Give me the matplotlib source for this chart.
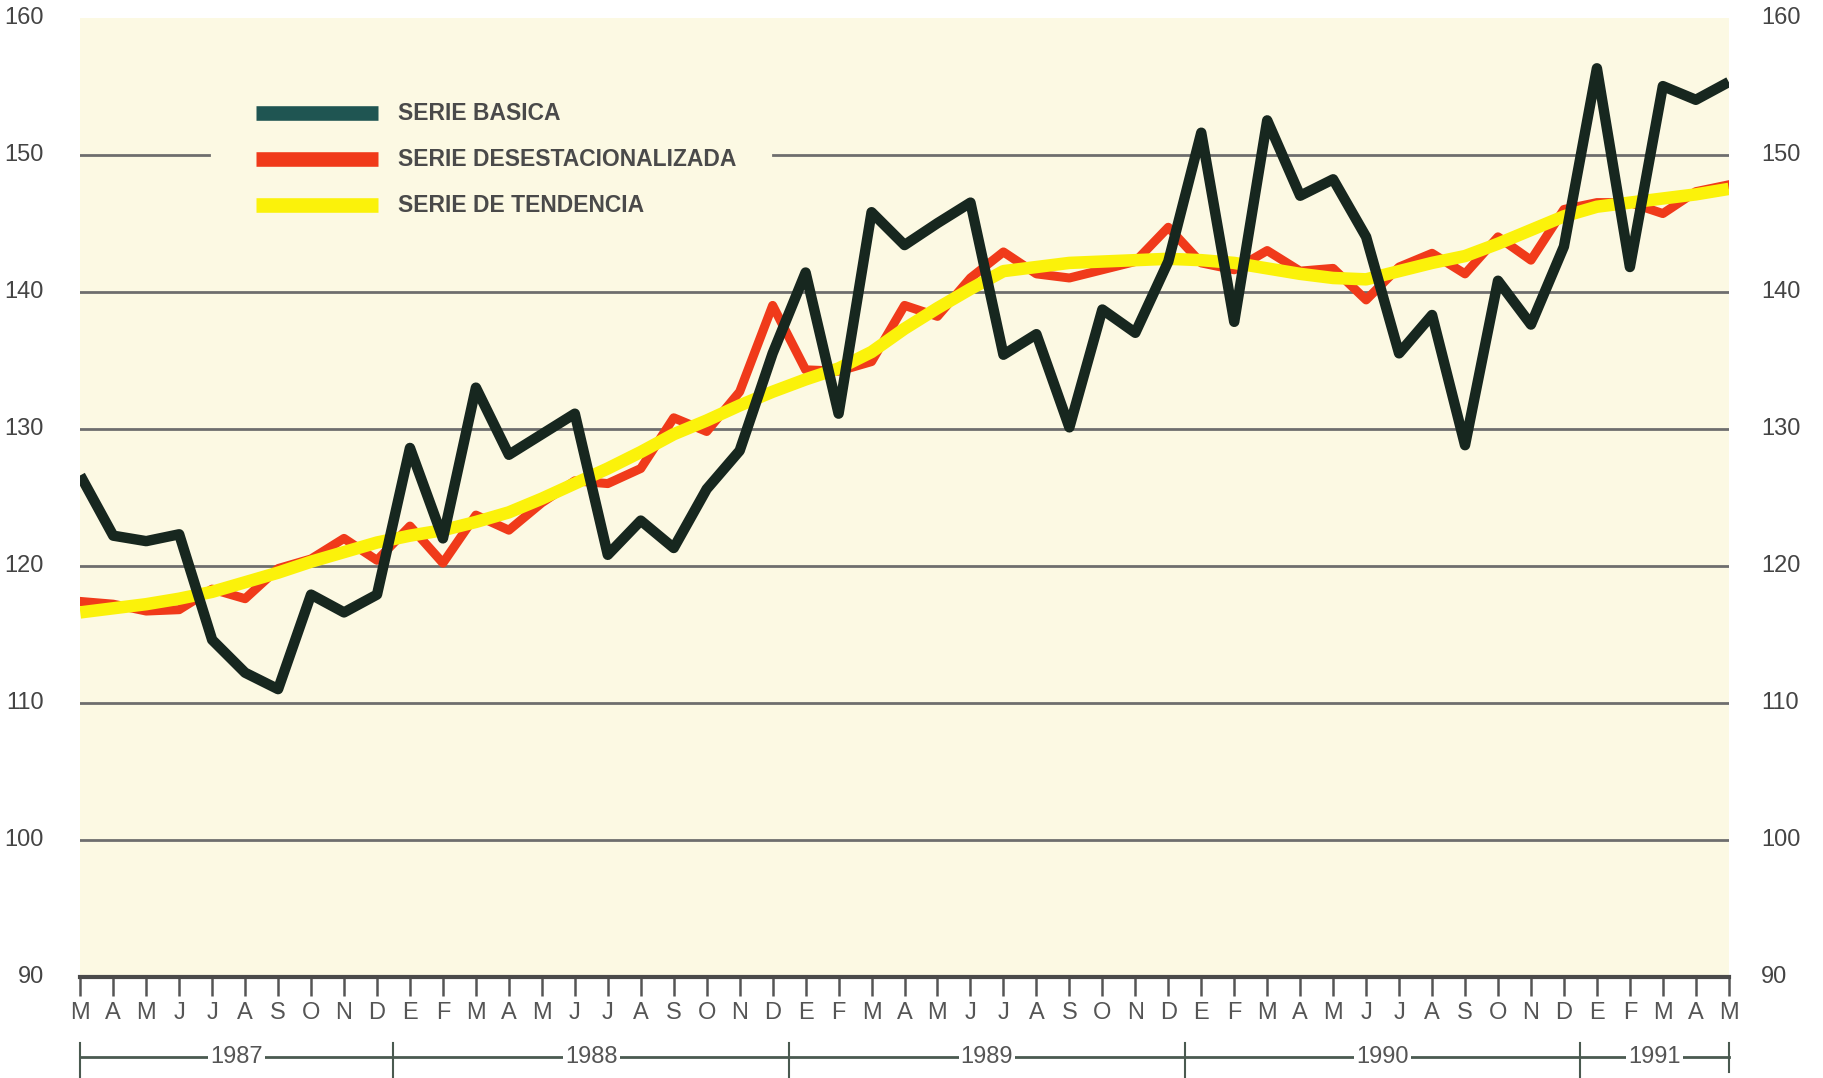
import numpy as np
import matplotlib
matplotlib.use('Agg')
import matplotlib.pyplot as plt
import matplotlib.transforms as mtransforms

meses = ['M', 'A', 'M', 'J', 'J', 'A', 'S', 'O', 'N', 'D',
         'E', 'F', 'M', 'A', 'M', 'J', 'J', 'A', 'S', 'O', 'N', 'D',
         'E', 'F', 'M', 'A', 'M', 'J', 'J', 'A', 'S', 'O', 'N', 'D',
         'E', 'F', 'M', 'A', 'M', 'J', 'J', 'A', 'S', 'O', 'N', 'D',
         'E', 'F', 'M', 'A', 'M']

basica = [126.6, 122.2, 121.8, 122.3, 114.6, 112.2, 111.0, 117.9, 116.6, 117.9,
          128.6, 122.0, 133.0, 128.1, 129.6, 131.1, 120.8, 123.3, 121.3, 125.6, 128.4, 135.5,
          141.4, 131.1, 145.8, 143.4, 145.0, 146.5, 135.4, 136.9, 130.1, 138.7, 137.0, 142.2,
          151.6, 137.8, 152.5, 147.0, 148.2, 144.0, 135.5, 138.3, 128.8, 140.8, 137.6, 143.3,
          156.3, 141.8, 155.0, 154.0, 155.3]

desest = [117.4, 117.2, 116.7, 116.8, 118.3, 117.6, 119.8, 120.5, 122.0, 120.4,
          122.9, 120.2, 123.7, 122.6, 124.6, 126.2, 126.0, 127.1, 130.8, 129.8, 132.7, 139.0,
          134.3, 134.2, 134.9, 139.0, 138.2, 141.0, 142.9, 141.3, 141.0, 141.6, 142.2, 144.7,
          142.1, 141.6, 143.0, 141.5, 141.7, 139.4, 141.8, 142.8, 141.3, 144.0, 142.3, 146.0,
          146.5, 146.5, 145.7, 147.3, 147.8]

tendencia = [116.6, 116.9, 117.2, 117.6, 118.1, 118.8, 119.5, 120.3, 121.0, 121.7,
             122.2, 122.6, 123.2, 123.9, 124.9, 126.0, 127.1, 128.3, 129.6, 130.6, 131.7, 132.7,
             133.6, 134.4, 135.6, 137.3, 138.8, 140.2, 141.5, 141.8, 142.1, 142.2, 142.3, 142.4,
             142.3, 142.1, 141.7, 141.3, 141.0, 140.9, 141.5, 142.1, 142.6, 143.5, 144.5, 145.5,
             146.2, 146.5, 146.8, 147.1, 147.5]

anios = ['1987', '1988', '1989', '1990', '1991']
# limites de cada año en indice de mes
limites = [0, 9.5, 21.5, 33.5, 45.5, 50]

yticks = [90, 100, 110, 120, 130, 140, 150, 160]

fondo = '#fcf9e3'
gris = '#555555'

fig = plt.figure(figsize=(18.24, 10.78), dpi=100)
fig.patch.set_facecolor('white')
ax = fig.add_axes([0.044, 0.0937, 0.9038, 0.89])
ax.set_facecolor(fondo)

x = np.arange(len(meses))
ax.set_xlim(0, len(meses) - 1)
ax.set_ylim(90, 160)

# lineas horizontales
for v in [100, 110, 120, 130, 140]:
    ax.axhline(v, color='#6e6e6e', lw=2, zorder=1)
ax.axhline(150, xmin=0, xmax=0.078, color='#6e6e6e', lw=2, zorder=1)
ax.axhline(150, xmin=0.42, xmax=1, color='#6e6e6e', lw=2, zorder=1)

ax.plot(x, desest, color='#f03a1a', lw=6.5, solid_joinstyle='round', zorder=2)
ax.plot(x, tendencia, color='#fbf20a', lw=9, solid_capstyle='butt', zorder=3)
ax.plot(x, basica, color='#17271f', lw=7.5, solid_joinstyle='round', solid_capstyle='butt', zorder=4)

for s in ['top', 'left', 'right']:
    ax.spines[s].set_visible(False)
ax.spines['bottom'].set_color('#4a4a4a')
ax.spines['bottom'].set_linewidth(3)

ax.set_xticks(x)
ax.set_xticklabels(meses, fontsize=17, color=gris, family=['Liberation Sans Narrow', 'Liberation Sans'])
ax.tick_params(axis='x', direction='out', length=14, width=1.8, color=gris, pad=4)
ax.set_yticks([])

# etiquetas eje y a ambos lados
ytrans = mtransforms.blended_transform_factory(ax.transAxes, ax.transData)
for v in yticks:
    ax.text(-0.022, v, str(v), transform=ytrans, ha='right', va='center', fontsize=17,
            color='#444444', family='Liberation Sans')
    ax.text(1.0195, v, str(v), transform=ytrans, ha='left', va='center', fontsize=17,
            color='#444444', family='Liberation Sans')

# leyenda
leyenda = [('SERIE BASICA', '#1f5552'), ('SERIE DESESTACIONALIZADA', '#f03a1a'), ('SERIE DE TENDENCIA', '#fbf20a')]
for k, (txt, col) in enumerate(leyenda):
    yy = 1 - (113 + 46 * k) / 1078
    fig.add_artist(plt.Line2D([256 / 1824, 378 / 1824], [yy, yy], color=col, lw=10.5, solid_capstyle='butt'))
    fig.text(398 / 1824, yy, txt, ha='left', va='center', fontsize=16.5, fontweight='bold',
             color='#4a4a4a', family='Liberation Sans')

# barra de años debajo
trans = mtransforms.blended_transform_factory(ax.transData, ax.transAxes)
yb = -0.0834
ax.plot([limites[0], limites[-1]], [yb, yb], transform=trans, color='#4a5a50', lw=2, clip_on=False)
for lim in limites:
    y0 = -0.069
    y1 = -0.105 if lim != limites[-1] else -0.099
    ax.plot([lim, lim], [y0, y1], transform=trans, color='#4a5a50', lw=1.5, clip_on=False)
for k, a in enumerate(anios):
    c = (limites[k] + limites[k + 1]) / 2
    ax.text(c, yb, a, transform=trans, ha='center', va='center', fontsize=17, color=gris,
            family=['Liberation Sans Narrow', 'Liberation Sans'],
            bbox=dict(facecolor='white', edgecolor='none', pad=1.5))

fig.savefig('out.png', dpi=100, facecolor='white')
